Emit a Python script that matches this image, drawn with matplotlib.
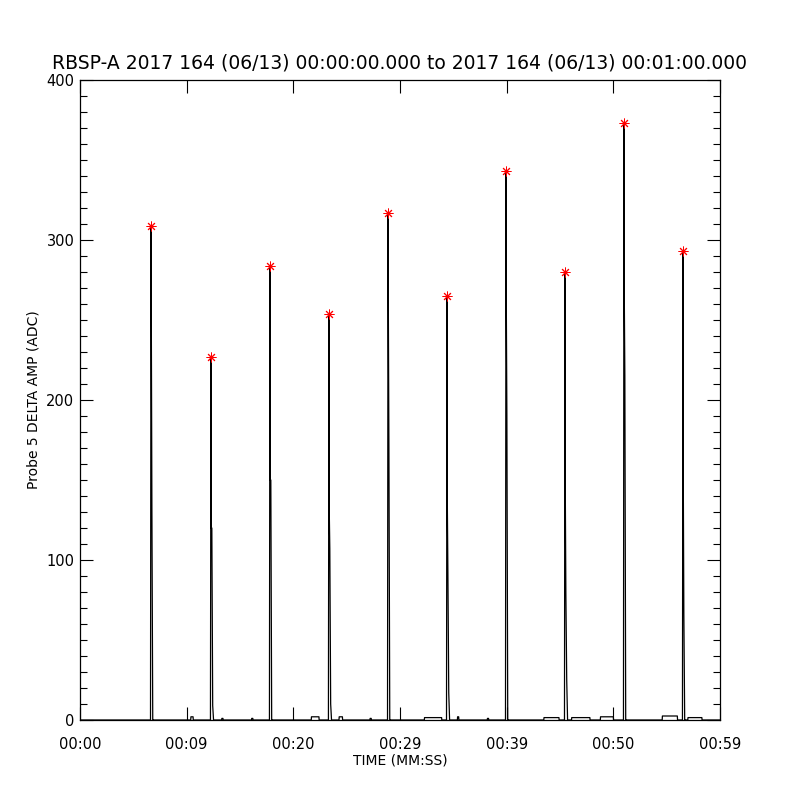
import matplotlib
matplotlib.use('Agg')
import matplotlib.pyplot as plt
import numpy as np

# Peak times (s) and amplitude levels for each spike (ADC)
peak_times = [6.66, 12.28, 17.81, 23.34, 28.88, 34.41, 39.94, 45.47, 51.00, 56.53]
peak_vals = [309, 227, 284, 254, 317, 265, 343, 280, 373, 293]
# levels after the peak on the way down (second, third, fourth sample)
fall_a = [284, 120, 150, 139, 284, 150, 282, 164, 282, 180]
fall_b = [133, 120, 150, 107, 171, 92, 190, 79, 215, 67]
fall_c = [0, 9, 0, 10, 0, 17, 0, 25, 0, 0]

# small baseline bumps: (start s, end s, level)
bump_start = [10.4, 13.3, 16.1, 21.7, 24.3, 27.2, 32.3, 35.4, 38.2, 43.5, 46.1, 48.8, 54.6, 57.0]
bump_end = [10.6, 13.4, 16.2, 22.4, 24.6, 27.3, 33.9, 35.5, 38.3, 44.9, 47.8, 50.0, 56.0, 58.3]
bump_level = [2, 1, 1, 2, 2, 1, 1.5, 2, 1, 1.5, 1.5, 2, 2.5, 1.5]

# sample offsets around a spike (s)
offsets = [-0.05, 0.0, 0.01, 0.08, 0.16, 0.24]

t = [0.0]
y = [0.0]
events = []
for i in range(len(peak_times)):
    p = peak_times[i]
    vals = [0, peak_vals[i], fall_a[i], fall_b[i], fall_c[i], 0]
    events.append(([p + o for o in offsets], vals))
for s, e, lv in zip(bump_start, bump_end, bump_level):
    events.append(([s - 0.02, s, e, e + 0.02], [0, lv, lv, 0]))
events.sort(key=lambda ev: ev[0][0])
for ts, vs in events:
    t.extend(ts)
    y.extend(vs)
t.append(60.0)
y.append(0.0)

fig = plt.figure(figsize=(8, 8), dpi=100)
ax = fig.add_axes([0.1, 0.1, 0.8, 0.8])
ax.plot(t, y, color='black', linewidth=0.9)
ax.plot(peak_times, peak_vals, linestyle='none', marker=(8, 2, 0),
        markersize=7, color='red', markeredgewidth=0.7)

ax.set_xlim(0, 60)
ax.set_ylim(0, 400)
xticks = [0, 10, 20, 30, 40, 50, 60]
xlabels = ['00:00', '00:09', '00:20', '00:29', '00:39', '00:50', '00:59']
ax.set_xticks(xticks)
ax.set_xticklabels(xlabels)
ax.set_yticks([0, 100, 200, 300, 400])
ax.set_yticks(np.arange(0, 401, 10), minor=True)
ax.tick_params(axis='both', which='major', direction='in', length=9.5,
               width=0.8, top=True, right=True, labelsize=10.5)
ax.tick_params(axis='y', which='minor', direction='in', length=5,
               width=0.8, left=True, right=True)
ax.tick_params(axis='x', which='major', pad=12)
ax.tick_params(axis='y', which='major', pad=4)
for sp in ax.spines.values():
    sp.set_linewidth(0.9)

ax.set_title('RBSP-A 2017 164 (06/13) 00:00:00.000 to 2017 164 (06/13) 00:01:00.000',
             fontsize=13.5, pad=8)
ax.set_xlabel('TIME (MM:SS)', fontsize=10, labelpad=1)
ax.set_ylabel('Probe 5 DELTA AMP (ADC)', fontsize=10, labelpad=4)

fig.savefig('out.png', dpi=100)
